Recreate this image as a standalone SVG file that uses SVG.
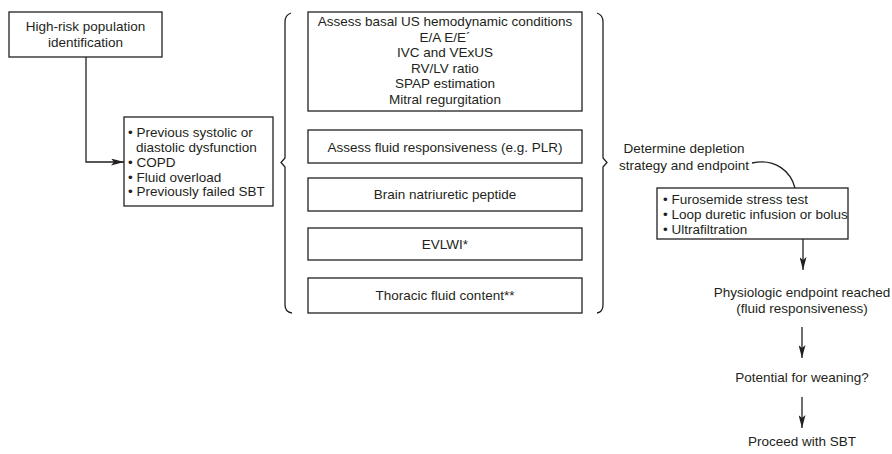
<svg xmlns="http://www.w3.org/2000/svg" width="892" height="454" viewBox="0 0 892 454">
  <style>
    .box { fill: #ffffff; stroke: #231f20; stroke-width: 1.3; }
    .txt { font-family: "Liberation Sans", Arial, sans-serif; font-size: 13.5px; fill: #231f20; }
    .mid { text-anchor: middle; }
    .line { fill: none; stroke: #231f20; stroke-width: 1.3; }
  </style>
  <defs>
    <!-- slender filled arrowhead shared by all connectors -->
    <marker id="arrow" viewBox="0 0 13 7" refX="13" refY="3.5" markerWidth="13" markerHeight="7" markerUnits="userSpaceOnUse" orient="auto">
      <path d="M0,0 L13,3.5 L0,7 L3,3.5 Z" fill="#231f20"/>
    </marker>
  </defs>
  <rect width="892" height="454" fill="#ffffff"/>

  <!-- connectors -->
  <g id="connectors">
    <path class="line" d="M86,57 V162 H124" marker-end="url(#arrow)"/>
    <path class="line" d="M752,163 C776,158 791,172 795,188"/>
    <line class="line" x1="803" y1="239" x2="803" y2="270" marker-end="url(#arrow)"/>
    <line class="line" x1="802" y1="327" x2="802" y2="358" marker-end="url(#arrow)"/>
    <line class="line" x1="802" y1="397" x2="802" y2="428" marker-end="url(#arrow)"/>
  </g>

  <!-- braces -->
  <g id="braces">
    <path class="line" d="M291,13 Q285,15 285,22 V158 L281,162.5 L285,167 V305 Q285,312 292,313"/>
    <path class="line" d="M597,13 Q603,15 603,22 V158 L607,162.5 L603,167 V305 Q603,312 597,313"/>
  </g>

  <g id="high-risk">
    <rect class="box" x="9" y="12" width="153" height="45"/>
    <text class="txt mid" x="85.5" y="30.5">High-risk population</text>
    <text class="txt mid" x="85.5" y="47">identification</text>
  </g>

  <g id="risk-factors">
    <rect class="box" x="124" y="117" width="149" height="89"/>
    <text class="txt" x="128" y="137">• Previous systolic or</text>
    <text class="txt" x="136" y="152">diastolic dysfunction</text>
    <text class="txt" x="128" y="167">• COPD</text>
    <text class="txt" x="128" y="181.5">• Fluid overload</text>
    <text class="txt" x="128" y="196">• Previously failed SBT</text>
  </g>

  <g id="basal-us">
    <rect class="box" x="308" y="12" width="274" height="99"/>
    <text class="txt mid" x="445" y="26">Assess basal US hemodynamic conditions</text>
    <text class="txt mid" x="445" y="41.5">E/A E/E´</text>
    <text class="txt mid" x="445" y="57">IVC and VExUS</text>
    <text class="txt mid" x="445" y="72.5">RV/LV ratio</text>
    <text class="txt mid" x="445" y="88">SPAP estimation</text>
    <text class="txt mid" x="445" y="103.5">Mitral regurgitation</text>
  </g>

  <g id="fluid-responsiveness">
    <rect class="box" x="308" y="130" width="274" height="33"/>
    <text class="txt mid" x="445" y="152">Assess fluid responsiveness (e.g. PLR)</text>
  </g>

  <g id="bnp">
    <rect class="box" x="308" y="178" width="274" height="33"/>
    <text class="txt mid" x="445" y="199">Brain natriuretic peptide</text>
  </g>

  <g id="evlwi">
    <rect class="box" x="308" y="228" width="274" height="32"/>
    <text class="txt mid" x="445" y="248.5">EVLWI*</text>
  </g>

  <g id="thoracic-fluid">
    <rect class="box" x="308" y="278" width="274" height="35"/>
    <text class="txt mid" x="445" y="300">Thoracic fluid content**</text>
  </g>

  <g id="depletion-strategy">
    <text class="txt mid" x="684" y="152.5">Determine depletion</text>
    <text class="txt mid" x="684" y="170">strategy and endpoint</text>
  </g>

  <g id="depletion-methods">
    <rect class="box" x="657" y="188" width="191" height="51"/>
    <text class="txt" x="663" y="203.5">• Furosemide stress test</text>
    <text class="txt" x="663" y="218.5">• Loop duretic infusion or bolus</text>
    <text class="txt" x="663" y="233.5">• Ultrafiltration</text>
  </g>

  <g id="endpoint">
    <text class="txt mid" x="802" y="297">Physiologic endpoint reached</text>
    <text class="txt mid" x="802" y="313">(fluid responsiveness)</text>
  </g>

  <g id="weaning">
    <text class="txt mid" x="802" y="382">Potential for weaning?</text>
  </g>

  <g id="sbt">
    <text class="txt mid" x="802" y="446">Proceed with SBT</text>
  </g>
</svg>
